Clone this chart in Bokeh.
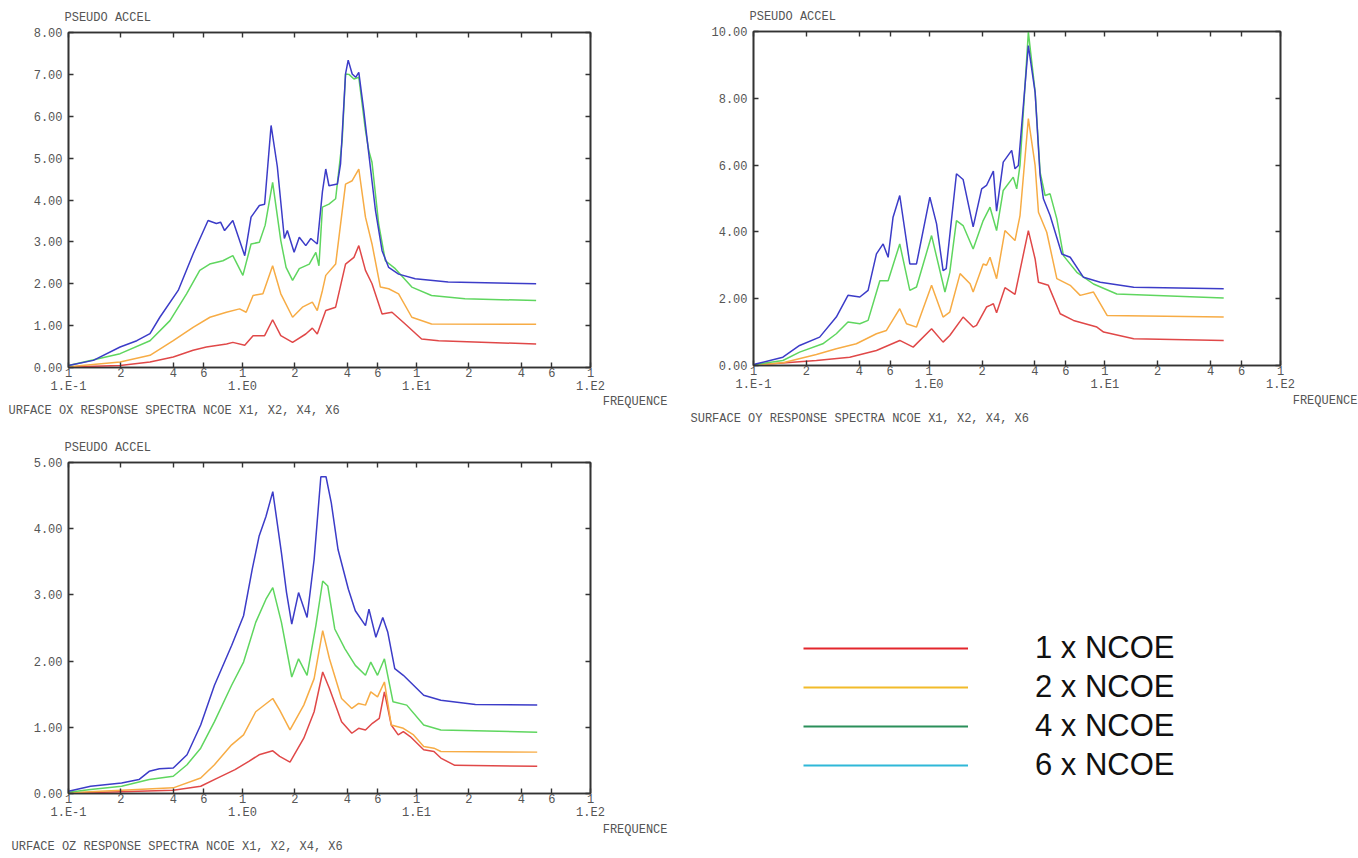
from bokeh.plotting import figure
from bokeh.models import (LogAxis, LinearAxis, FixedTicker, PrintfTickFormatter,
                          CustomJSTickFormatter, Title, Legend, LegendItem, Range1d)
from bokeh.layouts import row, column
from bokeh.embed import file_html
from bokeh.resources import INLINE

# ---------------- data ----------------
SERIES = ["1 x NCOE", "2 x NCOE", "4 x NCOE", "6 x NCOE"]
X_TICKS = [0.1, 0.2, 0.4, 0.6, 1, 2, 4, 6, 10, 20, 40, 60, 100]
X_TICK_LABELS = ["1", "2", "4", "6", "1", "2", "4", "6", "1", "2", "4", "6", "1"]
DECADE_TICKS = [0.1, 1, 10, 100]
DECADE_LABELS = ["1.E-1", "1.E0", "1.E1", "1.E2"]
TL_Y_TICKS = [0, 1, 2, 3, 4, 5, 6, 7, 8]
TR_Y_TICKS = [0, 2, 4, 6, 8, 10]
B_Y_TICKS = [0, 1, 2, 3, 4, 5]
Y_LABEL = "PSEUDO ACCEL"
X_LABEL = "FREQUENCE"
TL_CAPTION = "URFACE OX RESPONSE SPECTRA NCOE X1, X2, X4, X6"
TR_CAPTION = "SURFACE OY RESPONSE SPECTRA NCOE X1, X2, X4, X6"
B_CAPTION = "URFACE OZ RESPONSE SPECTRA NCOE X1, X2, X4, X6"

# top-left chart (OX)
TL_RED_F = [0.1, 0.198, 0.294, 0.4, 0.52, 0.62, 0.81, 0.88, 1.03, 1.15, 1.34, 1.49, 1.66, 1.94, 2.31,
            2.52, 2.69, 3.01, 3.43, 3.91, 4.37, 4.66, 5.09, 5.55, 6.34, 7.23, 8.61, 10.7, 13.4, 48.7]
TL_RED_V = [0.01, 0.05, 0.13, 0.25, 0.41, 0.49, 0.56, 0.60, 0.53, 0.76, 0.76, 1.14, 0.76, 0.60, 0.80,
            0.94, 0.80, 1.36, 1.44, 2.47, 2.63, 2.91, 2.32, 2.00, 1.28, 1.32, 1.04, 0.68, 0.64, 0.56]
TL_ORANGE_F = [0.1, 0.198, 0.294, 0.4, 0.52, 0.65, 0.808, 0.962, 1.05, 1.15, 1.31, 1.49, 1.66, 1.94, 2.21,
               2.52, 2.69, 2.88, 3.01, 3.43, 3.91, 4.27, 4.66, 5.09, 5.55, 6.2, 6.92, 7.89, 9.4, 12.2, 48.7]
TL_ORANGE_V = [0.02, 0.13, 0.29, 0.64, 0.96, 1.20, 1.32, 1.40, 1.32, 1.72, 1.76, 2.43, 1.76, 1.20, 1.44,
               1.56, 1.36, 1.84, 2.20, 2.47, 4.38, 4.46, 4.74, 3.59, 2.95, 1.92, 1.88, 1.76, 1.20, 1.04, 1.03]
TL_GREEN_F = [0.1, 0.198, 0.294, 0.383, 0.477, 0.568, 0.648, 0.772, 0.88, 0.924, 1.005, 1.12, 1.25, 1.35,
              1.49, 1.66, 1.78, 1.94, 2.12, 2.42, 2.64, 2.75, 2.88, 3.14, 3.43, 3.74, 3.91, 4.09, 4.37,
              4.66, 5.09, 5.32, 5.55, 6.06, 6.62, 7.55, 9.4, 12.2, 19.0, 48.7]
TL_GREEN_V = [0.05, 0.33, 0.64, 1.12, 1.76, 2.32, 2.47, 2.55, 2.67, 2.50, 2.20, 2.95, 2.99, 3.40,
              4.42, 3.03, 2.39, 2.08, 2.36, 2.47, 2.75, 2.43, 3.83, 3.90, 4.03, 5.42, 7.01, 7.00, 6.89,
              6.93, 5.66, 5.18, 4.90, 3.43, 2.55, 2.36, 1.92, 1.72, 1.64, 1.60]
TL_BLUE_F = [0.1, 0.139, 0.198, 0.247, 0.294, 0.335, 0.427, 0.52, 0.634, 0.708, 0.748, 0.789, 0.88, 1.03,
             1.12, 1.25, 1.34, 1.46, 1.585, 1.74, 1.81, 1.98, 2.12, 2.31, 2.47, 2.69, 2.88, 3.01, 3.14,
             3.51, 3.66, 3.91, 4.05, 4.27, 4.47, 4.66, 4.98, 5.32, 5.81, 6.34, 6.92, 7.89, 9.83, 15.2, 48.7]
TL_BLUE_V = [0.05, 0.17, 0.49, 0.64, 0.81, 1.20, 1.84, 2.71, 3.51, 3.44, 3.47, 3.27, 3.51, 2.67,
             3.59, 3.87, 3.90, 5.78, 4.80, 3.08, 3.27, 2.75, 3.11, 2.91, 3.08, 2.95, 4.20, 4.74, 4.34,
             4.38, 4.86, 7.01, 7.34, 7.01, 6.93, 7.05, 6.13, 5.10, 3.75, 2.79, 2.39, 2.23, 2.12, 2.04, 2.00]

# top-right chart (OY)
TR_RED_F = [0.1, 0.228, 0.353, 0.501, 0.68, 0.811, 1.032, 1.2, 1.31, 1.56, 1.78, 1.86, 2.12, 2.22, 2.32,
            2.42, 2.7, 3.08, 3.67, 4.01, 4.19, 4.77, 5.57, 6.63, 9.01, 9.84, 14.6, 47.5]
TR_RED_V = [0.01, 0.15, 0.25, 0.45, 0.75, 0.55, 1.10, 0.70, 0.90, 1.45, 1.15, 1.20, 1.75, 1.80, 1.85,
            1.58, 2.33, 2.13, 4.04, 3.19, 2.49, 2.40, 1.55, 1.35, 1.15, 1.00, 0.80, 0.75]
TR_ORANGE_F = [0.1, 0.147, 0.228, 0.296, 0.385, 0.501, 0.571, 0.68, 0.743, 0.847, 1.032, 1.2, 1.31, 1.5,
               1.71, 1.78, 2.03, 2.12, 2.22, 2.42, 2.7, 3.08, 3.29, 3.67, 4.01, 4.19, 4.67, 5.33, 6.35,
               7.24, 8.62, 10.3, 47.5]
TR_ORANGE_V = [0.01, 0.08, 0.33, 0.50, 0.65, 0.95, 1.05, 1.70, 1.25, 1.15, 2.40, 1.45, 1.60, 2.75,
               2.45, 2.20, 3.04, 3.00, 3.24, 2.60, 4.04, 3.74, 4.49, 7.39, 5.99, 4.59, 3.99, 2.60, 2.40,
               2.10, 2.20, 1.50, 1.45]
TR_GREEN_F = [0.1, 0.147, 0.183, 0.248, 0.296, 0.345, 0.403, 0.449, 0.524, 0.584, 0.68, 0.776, 0.847,
              1.032, 1.23, 1.31, 1.43, 1.56, 1.78, 2.03, 2.22, 2.42, 2.64, 3.01, 3.15, 3.29, 3.67, 4.01,
              4.28, 4.57, 4.88, 5.33, 5.81, 6.93, 8.62, 11.7, 47.5]
TR_GREEN_V = [0.02, 0.15, 0.40, 0.65, 0.95, 1.30, 1.25, 1.35, 2.54, 2.54, 3.64, 2.25, 2.35,
              3.89, 2.20, 2.79, 4.34, 4.19, 3.49, 4.34, 4.74, 4.04, 5.24, 5.64, 5.29, 6.00, 9.98, 8.20,
              5.79, 5.09, 5.14, 4.39, 3.29, 2.79, 2.44, 2.14, 2.02]
TR_BLUE_F = [0.1, 0.104, 0.147, 0.183, 0.238, 0.296, 0.345, 0.403, 0.449, 0.501, 0.547, 0.584, 0.623,
             0.68, 0.776, 0.847, 1.009, 1.102, 1.2, 1.25, 1.43, 1.56, 1.78, 1.99, 2.12, 2.32, 2.42, 2.64,
             2.95, 3.08, 3.22, 3.67, 4.01, 4.28, 4.47, 4.88, 5.69, 6.35, 7.56, 9.42, 14.6, 47.5]
TR_BLUE_V = [0.02, 0.05, 0.25, 0.60, 0.85, 1.45, 2.10, 2.05, 2.25, 3.34, 3.64, 3.24, 4.44,
             5.09, 3.04, 3.04, 5.04, 4.24, 2.84, 2.90, 5.74, 5.57, 4.15, 5.29, 5.39, 5.82, 4.62, 6.09,
             6.44, 5.89, 5.99, 9.58, 8.18, 5.69, 4.99, 4.49, 3.34, 3.24, 2.64, 2.49, 2.34, 2.30]

# bottom chart (OZ)
B_RED_F = [0.1, 0.4, 0.575, 0.722, 0.906, 1.087, 1.245, 1.493, 1.636, 1.875, 2.25, 2.58, 2.89, 3.16, 3.71,
           4.25, 4.65, 5.09, 5.58, 6.11, 6.54, 7.16, 7.85, 8.4, 9.2, 11.0, 12.6, 13.8, 16.6, 49.4]
B_RED_V = [0.005, 0.05, 0.11, 0.235, 0.36, 0.485, 0.585, 0.645, 0.56, 0.475, 0.835, 1.235, 1.835, 1.585,
           1.085, 0.91, 0.985, 0.96, 1.06, 1.135, 1.535, 1.035, 0.885, 0.935, 0.86, 0.66, 0.635, 0.535,
           0.425, 0.41]
B_ORANGE_F = [0.1, 0.202, 0.4, 0.575, 0.69, 0.866, 1.014, 1.191, 1.493, 1.636, 1.875, 2.25, 2.58, 2.89,
              3.16, 3.71, 4.25, 4.65, 5.09, 5.46, 5.97, 6.54, 7.16, 8.4, 9.62, 11.0, 12.6, 13.8, 49.4]
B_ORANGE_V = [0.01, 0.05, 0.085, 0.235, 0.435, 0.735, 0.885, 1.235, 1.435, 1.26, 0.96, 1.335, 1.735,
              2.46, 2.035, 1.435, 1.285, 1.36, 1.335, 1.535, 1.46, 1.685, 1.035, 0.985, 0.885, 0.71,
              0.685, 0.635, 0.625]
B_GREEN_F = [0.1, 0.134, 0.202, 0.291, 0.4, 0.48, 0.575, 0.69, 0.866, 1.014, 1.191, 1.364, 1.493, 1.674,
             1.919, 2.1, 2.35, 2.64, 2.89, 3.09, 3.39, 3.88, 4.45, 5.09, 5.46, 5.97, 6.54, 7.33, 8.79,
             11.0, 13.8, 49.4]
B_GREEN_V = [0.02, 0.06, 0.11, 0.21, 0.26, 0.435, 0.685, 1.085, 1.635, 1.985, 2.585, 2.935, 3.11, 2.585,
             1.76, 2.035, 1.785, 2.535, 3.21, 3.135, 2.485, 2.185, 1.935, 1.785, 1.985, 1.785, 2.035,
             1.385, 1.335, 1.035, 0.96, 0.925]
B_BLUE_F = [0.1, 0.134, 0.202, 0.254, 0.291, 0.333, 0.4, 0.48, 0.575, 0.69, 0.866, 1.014, 1.137, 1.245,
            1.364, 1.493, 1.674, 1.791, 1.919, 2.1, 2.35, 2.58, 2.82, 3.02, 3.24, 3.54, 4.06, 4.45, 5.09,
            5.33, 5.84, 6.4, 6.84, 7.5, 8.4, 11.0, 13.8, 21.8, 49.4]
B_BLUE_V = [0.035, 0.11, 0.16, 0.21, 0.335, 0.375, 0.385, 0.585, 1.035, 1.635, 2.235, 2.685, 3.385,
            3.885, 4.185, 4.56, 3.635, 3.035, 2.56, 3.035, 2.66, 3.535, 4.785, 4.785, 4.385, 3.685,
            3.085, 2.76, 2.535, 2.785, 2.36, 2.66, 2.435, 1.885, 1.785, 1.485, 1.41, 1.345, 1.335]

# ---------------- styles ----------------
PLOT_COLORS = ["#e04848", "#f7ac45", "#5fd65f", "#3c3cc8"]
LEGEND_COLORS = ["#e3262c", "#f2bb2a", "#2b8f5a", "#2fb8d8"]
MONO = "Liberation Mono"
TXT = "#555555"
AXC = "#333333"

JS_LABELS = """
for (let i = 0; i < tk.length; i++) {
  if (Math.abs(tk[i] - tick) <= 1e-9 * Math.max(1, Math.abs(tick))) { return lb[i]; }
}
return "";
"""


def style_axis(ax, labels=True):
    ax.axis_line_color = AXC
    ax.axis_line_width = 1.6
    ax.major_tick_line_color = AXC
    ax.major_tick_line_width = 1.4
    ax.major_tick_in = 5
    ax.major_tick_out = 0
    ax.minor_tick_line_color = None
    ax.major_label_text_font = MONO
    ax.major_label_text_font_size = "12px"
    ax.major_label_text_color = TXT
    ax.major_label_text_line_height = 0.9
    if not labels:
        ax.major_label_text_color = None
        ax.major_label_standoff = 0


def mono_title(text, align, offset, standoff):
    return Title(text=text, align=align, offset=offset, standoff=standoff,
                 text_font=MONO, text_font_size="12px", text_font_style="normal",
                 text_color=TXT, text_line_height=1.0)


def make_chart(width, height, left, right, top, bottom, ymax, yticks, series, caption,
               cap_dx, ylab_standoff, freq_standoff, cap_standoff):
    p = figure(width=width, height=height, x_axis_type="log", output_backend="svg",
               toolbar_location=None, x_range=Range1d(0.1, 100), y_range=Range1d(0, ymax),
               min_border_left=left, min_border_right=right, min_border_top=top,
               min_border_bottom=bottom, x_axis_location=None, y_axis_location=None)
    p.grid.visible = False
    p.outline_line_color = AXC
    p.outline_line_width = 1.6
    p.background_fill_color = "white"
    p.border_fill_color = "white"

    for (fx, vy), col in zip(series, PLOT_COLORS):
        p.line(fx, vy, line_color=col, line_width=1.5)

    xb = LogAxis(ticker=FixedTicker(ticks=X_TICKS),
                 formatter=CustomJSTickFormatter(args=dict(tk=X_TICKS, lb=X_TICK_LABELS),
                                                 code=JS_LABELS))
    style_axis(xb)
    xb.major_label_standoff = 0
    p.add_layout(xb, "below")
    xd = LogAxis(ticker=FixedTicker(ticks=DECADE_TICKS),
                 formatter=CustomJSTickFormatter(args=dict(tk=DECADE_TICKS, lb=DECADE_LABELS),
                                                 code=JS_LABELS))
    style_axis(xd)
    xd.axis_line_color = None
    xd.major_tick_line_color = None
    xd.major_label_standoff = 0
    p.add_layout(xd, "below")

    xt = LogAxis(ticker=FixedTicker(ticks=X_TICKS))
    style_axis(xt, labels=False)
    p.add_layout(xt, "above")

    yl = LinearAxis(ticker=FixedTicker(ticks=yticks), formatter=PrintfTickFormatter(format="%.2f"))
    style_axis(yl)
    yl.major_label_standoff = 6
    p.add_layout(yl, "left")
    yr = LinearAxis(ticker=FixedTicker(ticks=yticks))
    style_axis(yr, labels=False)
    p.add_layout(yr, "right")

    p.add_layout(mono_title(Y_LABEL, "left", -4, ylab_standoff), "above")
    p.add_layout(mono_title(X_LABEL, "right", -77, freq_standoff), "below")
    p.add_layout(mono_title(caption, "left", cap_dx, cap_standoff), "below")
    return p


tl = make_chart(680, 430, 68, 87, 32, 63, 8, TL_Y_TICKS,
                [(TL_RED_F, TL_RED_V), (TL_ORANGE_F, TL_ORANGE_V),
                 (TL_GREEN_F, TL_GREEN_V), (TL_BLUE_F, TL_BLUE_V)],
                TL_CAPTION, -60, 16, -8, -6)
tr = make_chart(678, 433, 73, 78, 31, 68, 10, TR_Y_TICKS,
                [(TR_RED_F, TR_RED_V), (TR_ORANGE_F, TR_ORANGE_V),
                 (TR_GREEN_F, TR_GREEN_V), (TR_BLUE_F, TR_BLUE_V)],
                TR_CAPTION, -63, 15, -6, 10)
bt = make_chart(680, 428, 65, 90, 32, 65, 5, B_Y_TICKS,
                [(B_RED_F, B_RED_V), (B_ORANGE_F, B_ORANGE_V),
                 (B_GREEN_F, B_GREEN_V), (B_BLUE_F, B_BLUE_V)],
                B_CAPTION, -57, 16, -4, 7)

NAN = float("nan")
lg = figure(width=678, height=425, output_backend="svg", toolbar_location=None,
            x_range=Range1d(0, 1), y_range=Range1d(0, 1), min_border=0,
            x_axis_location=None, y_axis_location=None)
lg.grid.visible = False
lg.outline_line_color = None
items = []
for name, col in zip(SERIES, LEGEND_COLORS):
    r = lg.line(x=[NAN], y=[NAN], line_color=col, line_width=2)
    items.append(LegendItem(label=name, renderers=[r]))
legend = Legend(items=items, location=(50, 75), glyph_width=165, glyph_height=36,
                label_height=36, label_standoff=67, spacing=3, padding=0, margin=0,
                label_text_font="Liberation Sans", label_text_font_size="31px",
                label_text_color="#111111", border_line_color=None,
                background_fill_alpha=0)
lg.add_layout(legend)

layout = row(column(tl, bt), column(tr, lg))
open("out.html", "w").write(file_html(layout, INLINE))
